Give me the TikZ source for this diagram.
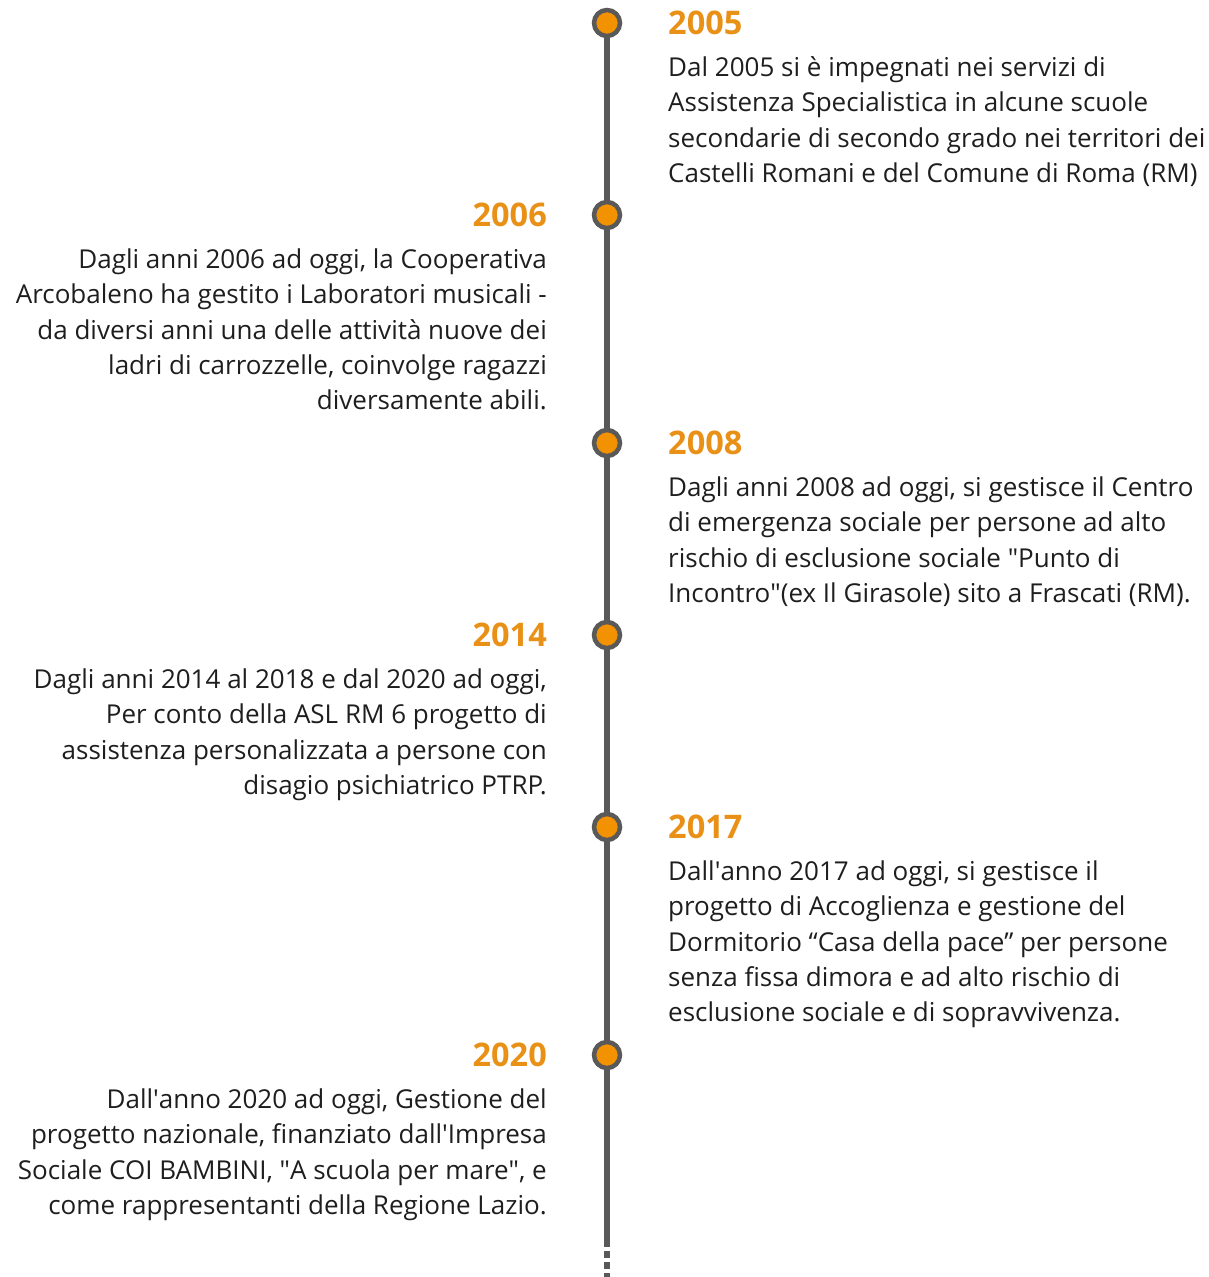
\documentclass[tikz,border=0pt]{standalone}
\usepackage{fontspec}
\setmainfont{Open Sans}
\usetikzlibrary{backgrounds}
\definecolor{linegray}{RGB}{89,89,89}
\definecolor{dotorange}{RGB}{243,146,0}
\definecolor{yearorange}{RGB}{233,145,22}
\definecolor{bodytext}{RGB}{30,30,30}
\newcommand{\tlblock}[2]{\begin{tabular}[t]{@{}#1@{}}#2\end{tabular}}
\begin{document}
\begin{tikzpicture}[x=1pt,y=-1pt,
  dot/.style={circle,draw=linegray,line width=4.5pt,fill=dotorange,minimum size=26pt,inner sep=0pt},
  year/.style={inner sep=0pt,text=yearorange,font=\fontsize{32.5}{36}\selectfont\bfseries},
  bodyR/.style={inner sep=0pt,text=bodytext,anchor=base west,font=\fontsize{26}{35.3}\selectfont},
  bodyL/.style={inner sep=0pt,text=bodytext,anchor=base east,font=\fontsize{26}{35.3}\selectfont},
  axis/.style={draw=linegray,line width=6pt}]
\useasboundingbox (0,0) rectangle (1209,1277);
\coordinate (lend) at (607,1247);
\coordinate (dstart) at (607,1251);
\coordinate (dend) at (607,1277);
\node[dot] (c1) at (607,23) {};
\node[dot] (c2) at (607,215) {};
\node[dot] (c3) at (607,443) {};
\node[dot] (c4) at (607,635) {};
\node[dot] (c5) at (607,827) {};
\node[dot] (c6) at (607,1055) {};
\begin{scope}[on background layer]
\path[axis] (c1.center) -- (lend);
\path[axis,dash pattern=on 7pt off 4pt] (dstart) -- (dend);
\end{scope}
% years
\node[year,anchor=base west] (y1) at (668,34) {2005};
\node[year,anchor=base east] (y2) at (547,226) {2006};
\node[year,anchor=base west] (y3) at (668,454) {2008};
\node[year,anchor=base east] (y4) at (547,646) {2014};
\node[year,anchor=base west] (y5) at (668,838) {2017};
\node[year,anchor=base east] (y6) at (547,1066) {2020};
% texts
\node[bodyR] (t1) at (668,76.5) {\tlblock{l}{Dal 2005 si è impegnati nei servizi di\\Assistenza Specialistica in alcune scuole\\secondarie di secondo grado nei territori dei\\Castelli Romani e del Comune di Roma (RM)}};
\node[bodyL] (t2) at (547,268.5) {\tlblock{r}{Dagli anni 2006 ad oggi, la Cooperativa\\Arcobaleno ha gestito i Laboratori musicali -\\da diversi anni una delle attività nuove dei\\ladri di carrozzelle, coinvolge ragazzi\\diversamente abili.}};
\node[bodyR] (t3) at (668,496.5) {\tlblock{l}{Dagli anni 2008 ad oggi, si gestisce il Centro\\di emergenza sociale per persone ad alto\\rischio di esclusione sociale \textquotedbl Punto di\\Incontro\textquotedbl(ex Il Girasole) sito a Frascati (RM).}};
\node[bodyL] (t4) at (547,688.5) {\tlblock{r}{Dagli anni 2014 al 2018 e dal 2020 ad oggi,\\Per conto della ASL RM 6 progetto di\\assistenza personalizzata a persone con\\disagio psichiatrico PTRP.}};
\node[bodyR] (t5) at (668,880.5) {\tlblock{l}{Dall\textquotesingle anno 2017 ad oggi, si gestisce il\\progetto di Accoglienza e gestione del\\Dormitorio “Casa della pace” per persone\\senza fissa dimora e ad alto rischio di\\esclusione sociale e di sopravvivenza.}};
\node[bodyL] (t6) at (547,1108.5) {\tlblock{r}{Dall\textquotesingle anno 2020 ad oggi, Gestione del\\progetto nazionale, finanziato dall\textquotesingle Impresa\\Sociale COI BAMBINI, \textquotedbl A scuola per mare\textquotedbl, e\\come rappresentanti della Regione Lazio.}};
\end{tikzpicture}
\end{document}
